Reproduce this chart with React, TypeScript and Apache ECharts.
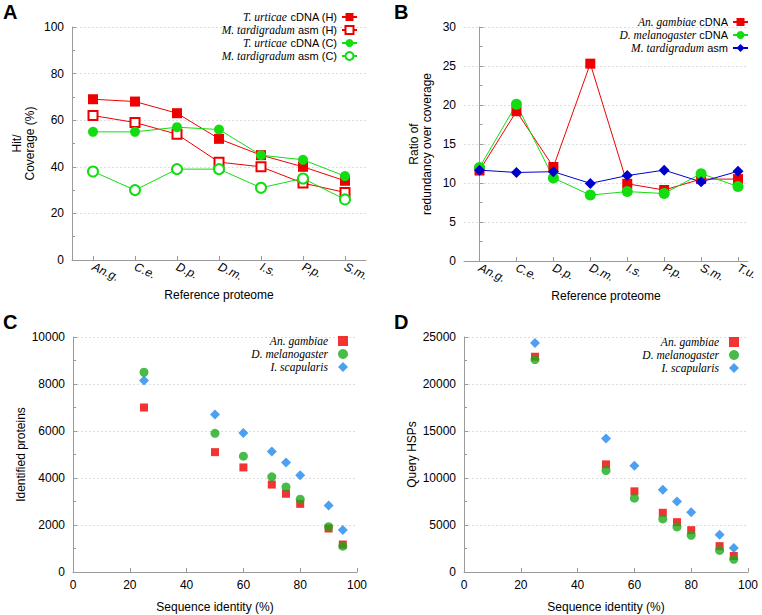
import React, { useEffect, useRef } from "react";
import * as echarts from "echarts";

// ---------- Panel A ----------
const catsA = ["An.g.", "C.e.", "D.p.", "D.m.", "I.s.", "P.p.", "S.m."];
const namesA = ["T. urticae cDNA (H)", "M. tardigradum asm (H)", "T. urticae cDNA (C)", "M. tardigradum asm (C)"];
const tuH = [69, 68, 63, 52, 45, 40, 34];
const mtH = [62, 59, 54, 42, 40, 33, 29];
const tuC = [55, 55, 57, 56, 45, 43, 36];
const mtC = [38, 30, 39, 39, 31, 35, 26];

// ---------- Panel B ----------
const catsB = ["An.g.", "C.e.", "D.p.", "D.m.", "I.s.", "P.p.", "S.m.", "T.u."];
const namesB = ["An. gambiae cDNA", "D. melanogaster cDNA", "M. tardigradum asm"];
const agB = [11.6, 19.2, 12.05, 25.3, 9.9, 9.1, 10.5, 10.5];
const dmB = [12.0, 20.1, 10.65, 8.45, 8.9, 8.65, 11.2, 9.55];
const mtB = [11.65, 11.35, 11.45, 9.95, 10.95, 11.65, 10.15, 11.5];

// ---------- Panels C & D ----------
const identity = [25, 50, 60, 70, 75, 80, 90, 95];
const namesCD = ["An. gambiae", "D. melanogaster", "I. scapularis"];
const agC = [7000, 5100, 4450, 3720, 3330, 2900, 1850, 1170];
const dmC = [8500, 5900, 4930, 4050, 3620, 3100, 1930, 1100];
const isC = [8150, 6700, 5920, 5130, 4660, 4120, 2830, 1790];
const agD = [22900, 11450, 8580, 6300, 5300, 4450, 2750, 1700];
const dmD = [22600, 10800, 7850, 5650, 4800, 3900, 2300, 1350];
const isD = [24350, 14200, 11300, 8750, 7500, 6350, 3950, 2550];

const RED = "#ee0000";
const GREEN = "#11dd11";
const BLUE_B = "#0000cc";
const GREEN_CD = "#1aaa1a";
const BLUE_CD = "#1e88ee";
const SANS = "Liberation Sans, Arial, sans-serif";
const SERIF = "Liberation Serif, Times New Roman, serif";
const AXIS_GRAY = "#9a9a9a";

const pair = (xs: number[], ys: number[]) => xs.map((x, i) => [x, ys[i]]);
const idx = (ys: number[]) => ys.map((y, i) => [i, y]);

const legendFmt = (name: string) => {
  const w = name.split(" ");
  const sp = w.slice(0, 2).join(" ");
  const rest = w.slice(2).join(" ");
  return rest ? `{i|${sp}} {n|${rest}}` : `{i|${sp}}`;
};
const makeRich = (padRight: number) => ({
  i: { fontFamily: SERIF, fontStyle: "italic", fontSize: 11.5, lineHeight: 12, color: "#000", padding: [0, padRight, 0, 0] },
  n: { fontFamily: SANS, fontSize: 11, lineHeight: 12, color: "#000" },
});

const baseLegend = (padRight: number) => ({
  orient: "vertical",
  align: "right",
  padding: 0,
  itemGap: 1,
  itemHeight: 10,
  selectedMode: false,
  formatter: legendFmt,
  textStyle: { fontFamily: SANS, fontSize: 11, lineHeight: 12, color: "#000", rich: makeRich(padRight) },
});

const axisCommon = {
  axisLine: { show: true, lineStyle: { color: AXIS_GRAY, width: 1 } },
  axisTick: { show: true, inside: true, length: 4, lineStyle: { color: AXIS_GRAY } },
  axisLabel: { color: "#000", fontSize: 12, fontFamily: SANS },
  nameTextStyle: { color: "#000", fontSize: 12, fontFamily: SANS, lineHeight: 13 },
  nameLocation: "middle",
};

const plain = (v: number) => String(v);

const yAxisDef = (max: number, interval: number, name: string, gap: number, gridIndex: number) => ({
  ...axisCommon,
  type: "value",
  gridIndex,
  min: 0,
  max,
  interval,
  name,
  nameGap: gap,
  axisLabel: { ...axisCommon.axisLabel, margin: 8, formatter: plain },
  minorTick: { show: true, splitNumber: 2, length: 3, lineStyle: { color: AXIS_GRAY } },
  splitLine: { show: true, lineStyle: { color: "#dddddd", type: [2, 2], width: 1 } },
});

const catLabel = { ...axisCommon.axisLabel, fontStyle: "italic", rotate: -25, margin: 6 };

export default function App() {
  const ref = useRef<HTMLDivElement>(null);
  useEffect(() => {
    document.body.style.margin = "0";
    const chart = echarts.init(ref.current!, null, { renderer: "svg" });
    const titleFont = "bold 20px Liberation Sans, Arial, sans-serif";
    const option: any = {
      animation: false,
      backgroundColor: "#ffffff",
      textStyle: { fontFamily: SANS },
      graphic: [
        { type: "text", left: 3, top: 2, style: { text: "A", font: titleFont, fill: "#000" } },
        { type: "text", left: 394, top: 2, style: { text: "B", font: titleFont, fill: "#000" } },
        { type: "text", left: 3, top: 312, style: { text: "C", font: titleFont, fill: "#000" } },
        { type: "text", left: 394, top: 312, style: { text: "D", font: titleFont, fill: "#000" } },
      ],
      grid: [
        { left: 72, right: 396, top: 27, bottom: 355, outerBoundsMode: "none" },
        { left: 464, right: 14, top: 27, bottom: 354, outerBoundsMode: "none" },
        { left: 73, right: 405, top: 337, bottom: 43, outerBoundsMode: "none" },
        { left: 464, right: 14, top: 337, bottom: 43, outerBoundsMode: "none" },
      ],
      legend: [
        { ...baseLegend(0), data: namesA, right: 404, top: 11, itemWidth: 15 },
        { ...baseLegend(0), data: namesB, right: 13, top: 16, itemWidth: 15 },
        { ...baseLegend(5), data: namesCD, right: 414, top: 335, itemWidth: 10, itemHeight: 10 },
        { ...baseLegend(5), data: namesCD, right: 23, top: 336, itemWidth: 10, itemHeight: 10 },
      ],
      xAxis: [
        {
          ...axisCommon,
          type: "category",
          gridIndex: 0,
          data: catsA,
          boundaryGap: true,
          name: "Reference proteome",
          nameGap: 28,
          axisTick: { ...axisCommon.axisTick, alignWithLabel: true },
          axisLabel: catLabel,
          splitLine: { show: false },
        },
        {
          ...axisCommon,
          type: "value",
          gridIndex: 1,
          min: -0.42,
          max: 7.27,
          name: "Reference proteome",
          nameGap: 28,
          axisTick: { ...axisCommon.axisTick, customValues: [0, 1, 2, 3, 4, 5, 6, 7] },
          axisLabel: {
            ...catLabel,
            customValues: [0, 1, 2, 3, 4, 5, 6, 7],
            formatter: (v: number) => catsB[Math.round(v)] ?? "",
          },
          splitLine: { show: false },
        },
        {
          ...axisCommon,
          type: "value",
          gridIndex: 2,
          min: 0,
          max: 100,
          interval: 20,
          name: "Sequence identity (%)",
          nameGap: 28,
          axisLabel: { ...axisCommon.axisLabel, margin: 7, formatter: plain },
          splitLine: { show: false },
        },
        {
          ...axisCommon,
          type: "value",
          gridIndex: 3,
          min: 0,
          max: 100,
          interval: 20,
          name: "Sequence identity (%)",
          nameGap: 28,
          axisLabel: { ...axisCommon.axisLabel, margin: 7, formatter: plain },
          splitLine: { show: false },
        },
      ],
      yAxis: [
        yAxisDef(100, 20, "Hit/\nCoverage (%)", 36, 0),
        yAxisDef(30, 5, "Ratio of\nredundancy over coverage", 31, 1),
        yAxisDef(10000, 2000, "Identified proteins", 38, 2),
        yAxisDef(25000, 5000, "Query HSPs", 39, 3),
      ],
      series: [
        // A
        { name: namesA[0], type: "line", xAxisIndex: 0, yAxisIndex: 0, data: tuH, symbol: "rect", symbolSize: 10, color: RED, lineStyle: { width: 1, color: RED } },
        { name: namesA[1], type: "line", xAxisIndex: 0, yAxisIndex: 0, data: mtH, symbol: "emptyRect", symbolSize: 9, color: RED, lineStyle: { width: 1, color: RED } },
        { name: namesA[2], type: "line", xAxisIndex: 0, yAxisIndex: 0, data: tuC, symbol: "circle", symbolSize: 10, color: GREEN, lineStyle: { width: 1, color: GREEN } },
        { name: namesA[3], type: "line", xAxisIndex: 0, yAxisIndex: 0, data: mtC, symbol: "emptyCircle", symbolSize: 10, color: GREEN, lineStyle: { width: 1, color: GREEN } },
        // B
        { name: namesB[0], type: "line", xAxisIndex: 1, yAxisIndex: 1, data: idx(agB), symbol: "rect", symbolSize: 10, color: RED, lineStyle: { width: 1, color: RED } },
        { name: namesB[1], type: "line", xAxisIndex: 1, yAxisIndex: 1, data: idx(dmB), symbol: "circle", symbolSize: 11, color: GREEN, lineStyle: { width: 1, color: GREEN } },
        { name: namesB[2], type: "line", xAxisIndex: 1, yAxisIndex: 1, data: idx(mtB), symbol: "diamond", symbolSize: 11, color: BLUE_B, lineStyle: { width: 1, color: BLUE_B } },
        // C
        { name: namesCD[0], type: "scatter", xAxisIndex: 2, yAxisIndex: 2, data: pair(identity, agC), symbol: "rect", symbolSize: 8, color: RED },
        { name: namesCD[1], type: "scatter", xAxisIndex: 2, yAxisIndex: 2, data: pair(identity, dmC), symbol: "circle", symbolSize: 9, color: GREEN_CD },
        { name: namesCD[2], type: "scatter", xAxisIndex: 2, yAxisIndex: 2, data: pair(identity, isC), symbol: "diamond", symbolSize: 10, color: BLUE_CD },
        // D
        { name: namesCD[0], type: "scatter", xAxisIndex: 3, yAxisIndex: 3, data: pair(identity, agD), symbol: "rect", symbolSize: 8, color: RED },
        { name: namesCD[1], type: "scatter", xAxisIndex: 3, yAxisIndex: 3, data: pair(identity, dmD), symbol: "circle", symbolSize: 9, color: GREEN_CD },
        { name: namesCD[2], type: "scatter", xAxisIndex: 3, yAxisIndex: 3, data: pair(identity, isD), symbol: "diamond", symbolSize: 10, color: BLUE_CD },
      ],
    };
    chart.setOption(option);
    return () => chart.dispose();
  }, []);
  return <div ref={ref} style={{ width: 762, height: 615, background: "#fff" }} />;
}
